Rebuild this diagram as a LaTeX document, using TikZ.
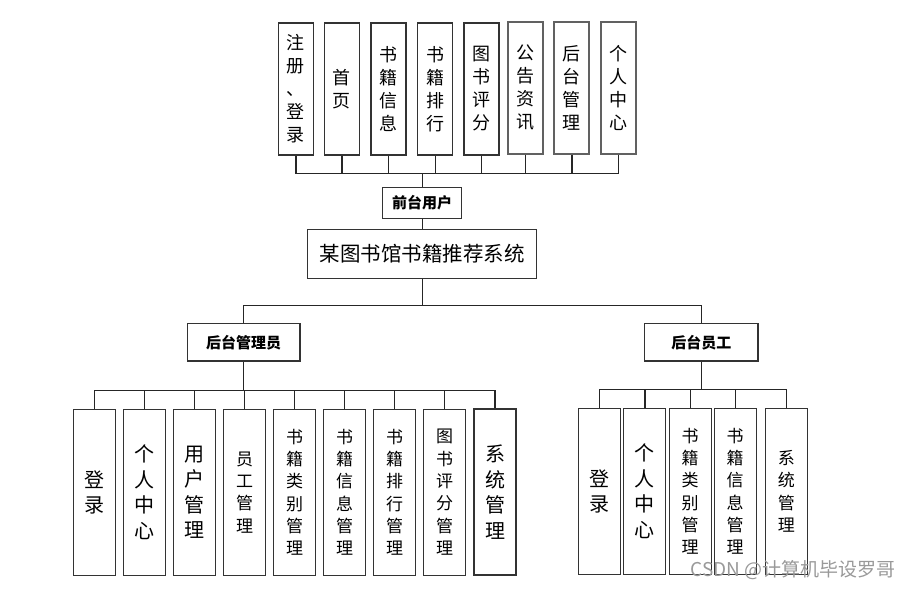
\documentclass[tikz,border=0pt]{standalone}
\usepackage{fontspec}
\setmainfont{Noto Sans CJK SC}
\usepackage{xcolor}
\usetikzlibrary{positioning}

\begin{document}
\begin{tikzpicture}[x=1pt, y=-1pt,
    box/.style={draw=black!80, line width=1.3pt, fill=white, inner sep=0pt, align=center},
    topbox/.style={box, minimum width=35pt, minimum height=132pt, font=\fontsize{18}{23}\selectfont},
    greybox/.style={draw=black!62, line width=2pt},
    rolebox/.style={box, minimum height=37.5pt, font=\fontsize{15}{18}\selectfont\bfseries},
    leafbox/.style={box, minimum width=42pt, minimum height=166pt},
    bigtxt/.style={font=\fontsize{20}{25.5}\selectfont},
    smalltxt/.style={font=\fontsize{17}{22.3}\selectfont},
    link/.style={draw=black!85, line width=1.4pt}]
    \useasboundingbox (0,0) rectangle (915,589);

    % 1. 前台用户的功能模块
    \foreach \i/\x/\txt in {1/295.8/{注\\册\\、\\登\\录}, 2/341.8/{首\\页}, 3/388.5/{书\\籍\\信\\息},
                            4/435.2/{书\\籍\\排\\行}, 5/481.5/{图\\书\\评\\分}} {
        \node[topbox] (t\i) at (\x,89) {\txt};
    }
    \foreach \i/\x/\txt in {6/525.5/{公\\告\\资\\讯}, 7/571.8/{后\\台\\管\\理}, 8/618.3/{个\\人\\中\\心}} {
        \node[topbox, greybox] (t\i) at (\x,87.5) {\txt};
    }

    % 2. 系统与三类角色
    \node[rolebox, minimum width=79pt, minimum height=31pt] (front) at (422.2,202.8) {前台用户};
    \node[box, minimum width=229pt, minimum height=49.4pt, font=\fontsize{20.5}{24}\selectfont]
        (root) at (422.2,254) {某图书馆书籍推荐系统};
    \node[rolebox, minimum width=112.7pt] (admin) at (243.65,342.3) {后台管理员};
    \node[rolebox, minimum width=113.3pt] (staff) at (701.35,342.3) {后台员工};

    \coordinate (topbus) at (422.2,173.3);
    \coordinate (rootbus) at (422.2,305.3);
    \coordinate (adminbus) at (243.65,390.5);
    \coordinate (staffbus) at (701.35,389.5);

    % 3. 后台管理员的功能模块
    \foreach \i/\sty/\txt in {1/bigtxt/{登\\录}, 2/bigtxt/{个\\人\\中\\心}, 3/bigtxt/{用\\户\\管\\理},
                              4/smalltxt/{员\\工\\管\\理}, 5/smalltxt/{书\\籍\\类\\别\\管\\理},
                              6/smalltxt/{书\\籍\\信\\息\\管\\理}, 7/smalltxt/{书\\籍\\排\\行\\管\\理},
                              8/smalltxt/{图\\书\\评\\分\\管\\理}} {
        \node[leafbox, \sty] (a\i) at ({94.5+50*(\i-1)},492.2) {\txt};
    }
    \node[leafbox, bigtxt, line width=1.6pt] (a9) at (495,492) {系\\统\\管\\理};

    % 4. 后台员工的功能模块
    \foreach \i/\x/\sty/\txt in {1/599.2/bigtxt/{登\\录}, 2/644.8/bigtxt/{个\\人\\中\\心},
                                 3/690.2/smalltxt/{书\\籍\\类\\别\\管\\理},
                                 4/735.2/smalltxt/{书\\籍\\信\\息\\管\\理},
                                 5/786.3/smalltxt/{系\\统\\管\\理}} {
        \node[leafbox, \sty] (s\i) at (\x,491.2) {\txt};
    }

    % 5. 连线
    \foreach \i in {1,...,8} {
        \draw[link] (t\i.south) |- (topbus);
    }
    \draw[link] (topbus) -- (front.north);
    \draw[link] (front.south) -- (root.north);
    \draw[link] (root.south) -- (rootbus);
    \draw[link] (rootbus) -| (admin.north);
    \draw[link] (rootbus) -| (staff.north);
    \draw[link] (admin.south) -- (adminbus);
    \foreach \i in {1,...,9} {
        \draw[link] (adminbus) -| (a\i.north);
    }
    \draw[link] (staff.south) -- (staffbus);
    \foreach \i in {1,...,5} {
        \draw[link] (staffbus) -| (s\i.north);
    }

    % 水印
    \node[anchor=east, text=black!40, font=\fontsize{19}{19}\selectfont] (mark) at (899,570) {CSDN @计算机毕设罗哥};

\end{tikzpicture}
\end{document}
